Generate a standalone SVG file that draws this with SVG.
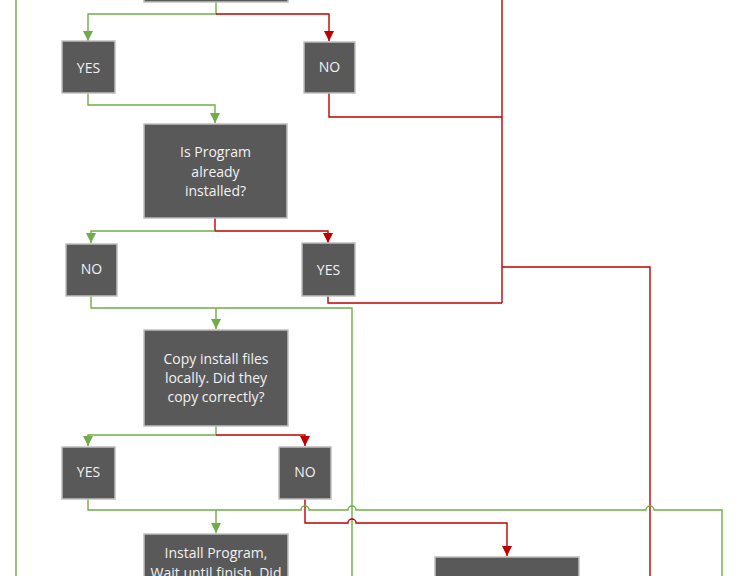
<svg xmlns="http://www.w3.org/2000/svg" width="739" height="576" viewBox="0 0 739 576">
<style>
.box{fill:#595959;stroke:#bfbfbf;stroke-width:1.5}
.t{font-family:"Open Sans","Liberation Sans",sans-serif;font-size:14px;fill:#f2f2f2;text-anchor:middle}
.g{fill:none;stroke:#70ad47;stroke-width:1.4}
.r{fill:none;stroke:#c00000;stroke-width:1.4}
</style>
<defs>
<marker id="ag" markerUnits="userSpaceOnUse" markerWidth="10" markerHeight="10" viewBox="0 0 10 10" refX="5" refY="10" orient="auto-start-reverse">
<path d="M0,0 L10,0 L5,10 Z" fill="#70ad47" transform="rotate(-90 5 5)"/>
</marker>
<marker id="agd" markerUnits="userSpaceOnUse" markerWidth="10" markerHeight="10" viewBox="0 0 10 10" refX="5" refY="10" orient="0">
<path d="M0,0 L10,0 L5,10 Z" fill="#70ad47"/>
</marker>
<marker id="ard" markerUnits="userSpaceOnUse" markerWidth="10" markerHeight="10" viewBox="0 0 10 10" refX="5" refY="10" orient="0">
<path d="M0,0 L10,0 L5,10 Z" fill="#c00000"/>
</marker>
</defs>
<rect width="739" height="576" fill="#ffffff"/>
<g id="connectors">
<path class="g" d="M16,0 V576"/>
<path class="g" d="M216,2 V14 H88 V41" marker-end="url(#agd)"/>
<path class="r" d="M216,14 H329 V41" marker-end="url(#ard)"/>
<path class="g" d="M88,93 V105 H215 V123" marker-end="url(#agd)"/>
<path class="r" d="M329,93 V117 H502"/>
<path class="r" d="M502,0 V303"/>
<path class="r" d="M502,267 H650 V576"/>
<path class="r" d="M215,218 V231 H328 V243" marker-end="url(#ard)"/>
<path class="g" d="M215,231 H91 V243" marker-end="url(#agd)"/>
<path class="r" d="M328,296 V303 H502"/>
<path class="g" d="M91,296 V308 H352 V576"/>
<path class="g" d="M216,308 V329" marker-end="url(#agd)"/>
<path class="g" d="M216,426 V435 H88 V446" marker-end="url(#agd)"/>
<path class="r" d="M216,435 H305 V446" marker-end="url(#ard)"/>
<path class="r" d="M305,499 V523 H348 A4,4 0 0 1 356,523 H507 V556" marker-end="url(#ard)"/>
<path class="g" d="M88,499 V510 H216 V533" marker-end="url(#agd)"/>
<path class="g" d="M216,510 H301 A4,4 0 0 1 309,510 H348 A4,4 0 0 1 356,510 H646 A4,4 0 0 1 654,510 H722 V576"/>
</g>
<g id="n-top"><rect class="box" x="144" y="-60" width="144" height="62"/></g>
<g id="n-yes1"><rect class="box" x="62" y="41" width="53" height="52"/><text class="t" x="88.5" y="73">YES</text></g>
<g id="n-no1"><rect class="box" x="304" y="42" width="51" height="51"/><text class="t" x="329.5" y="72">NO</text></g>
<g id="n-installed"><rect class="box" x="144" y="124" width="143" height="94"/>
<text class="t" x="215.5" y="157">Is Program</text>
<text class="t" x="215.5" y="177">already</text>
<text class="t" x="215.5" y="196">installed?</text></g>
<g id="n-no2"><rect class="box" x="66" y="244" width="51" height="52"/><text class="t" x="91.5" y="274">NO</text></g>
<g id="n-yes2"><rect class="box" x="302" y="243" width="53" height="53"/><text class="t" x="328.5" y="275">YES</text></g>
<g id="n-copy"><rect class="box" x="144" y="330" width="144" height="96"/>
<text class="t" x="216" y="364">Copy install files</text>
<text class="t" x="216" y="383">locally. Did they</text>
<text class="t" x="216" y="402">copy correctly?</text></g>
<g id="n-yes3"><rect class="box" x="62" y="447" width="53" height="52"/><text class="t" x="88.5" y="477">YES</text></g>
<g id="n-no3"><rect class="box" x="279" y="447" width="52" height="52"/><text class="t" x="305" y="477">NO</text></g>
<g id="n-install"><rect class="box" x="144" y="534" width="144" height="80"/>
<text class="t" x="216" y="558">Install Program,</text>
<text class="t" x="216" y="578">Wait until finish. Did</text></g>
<g id="n-right"><rect class="box" x="435" y="557" width="144" height="60"/></g>
</svg>
